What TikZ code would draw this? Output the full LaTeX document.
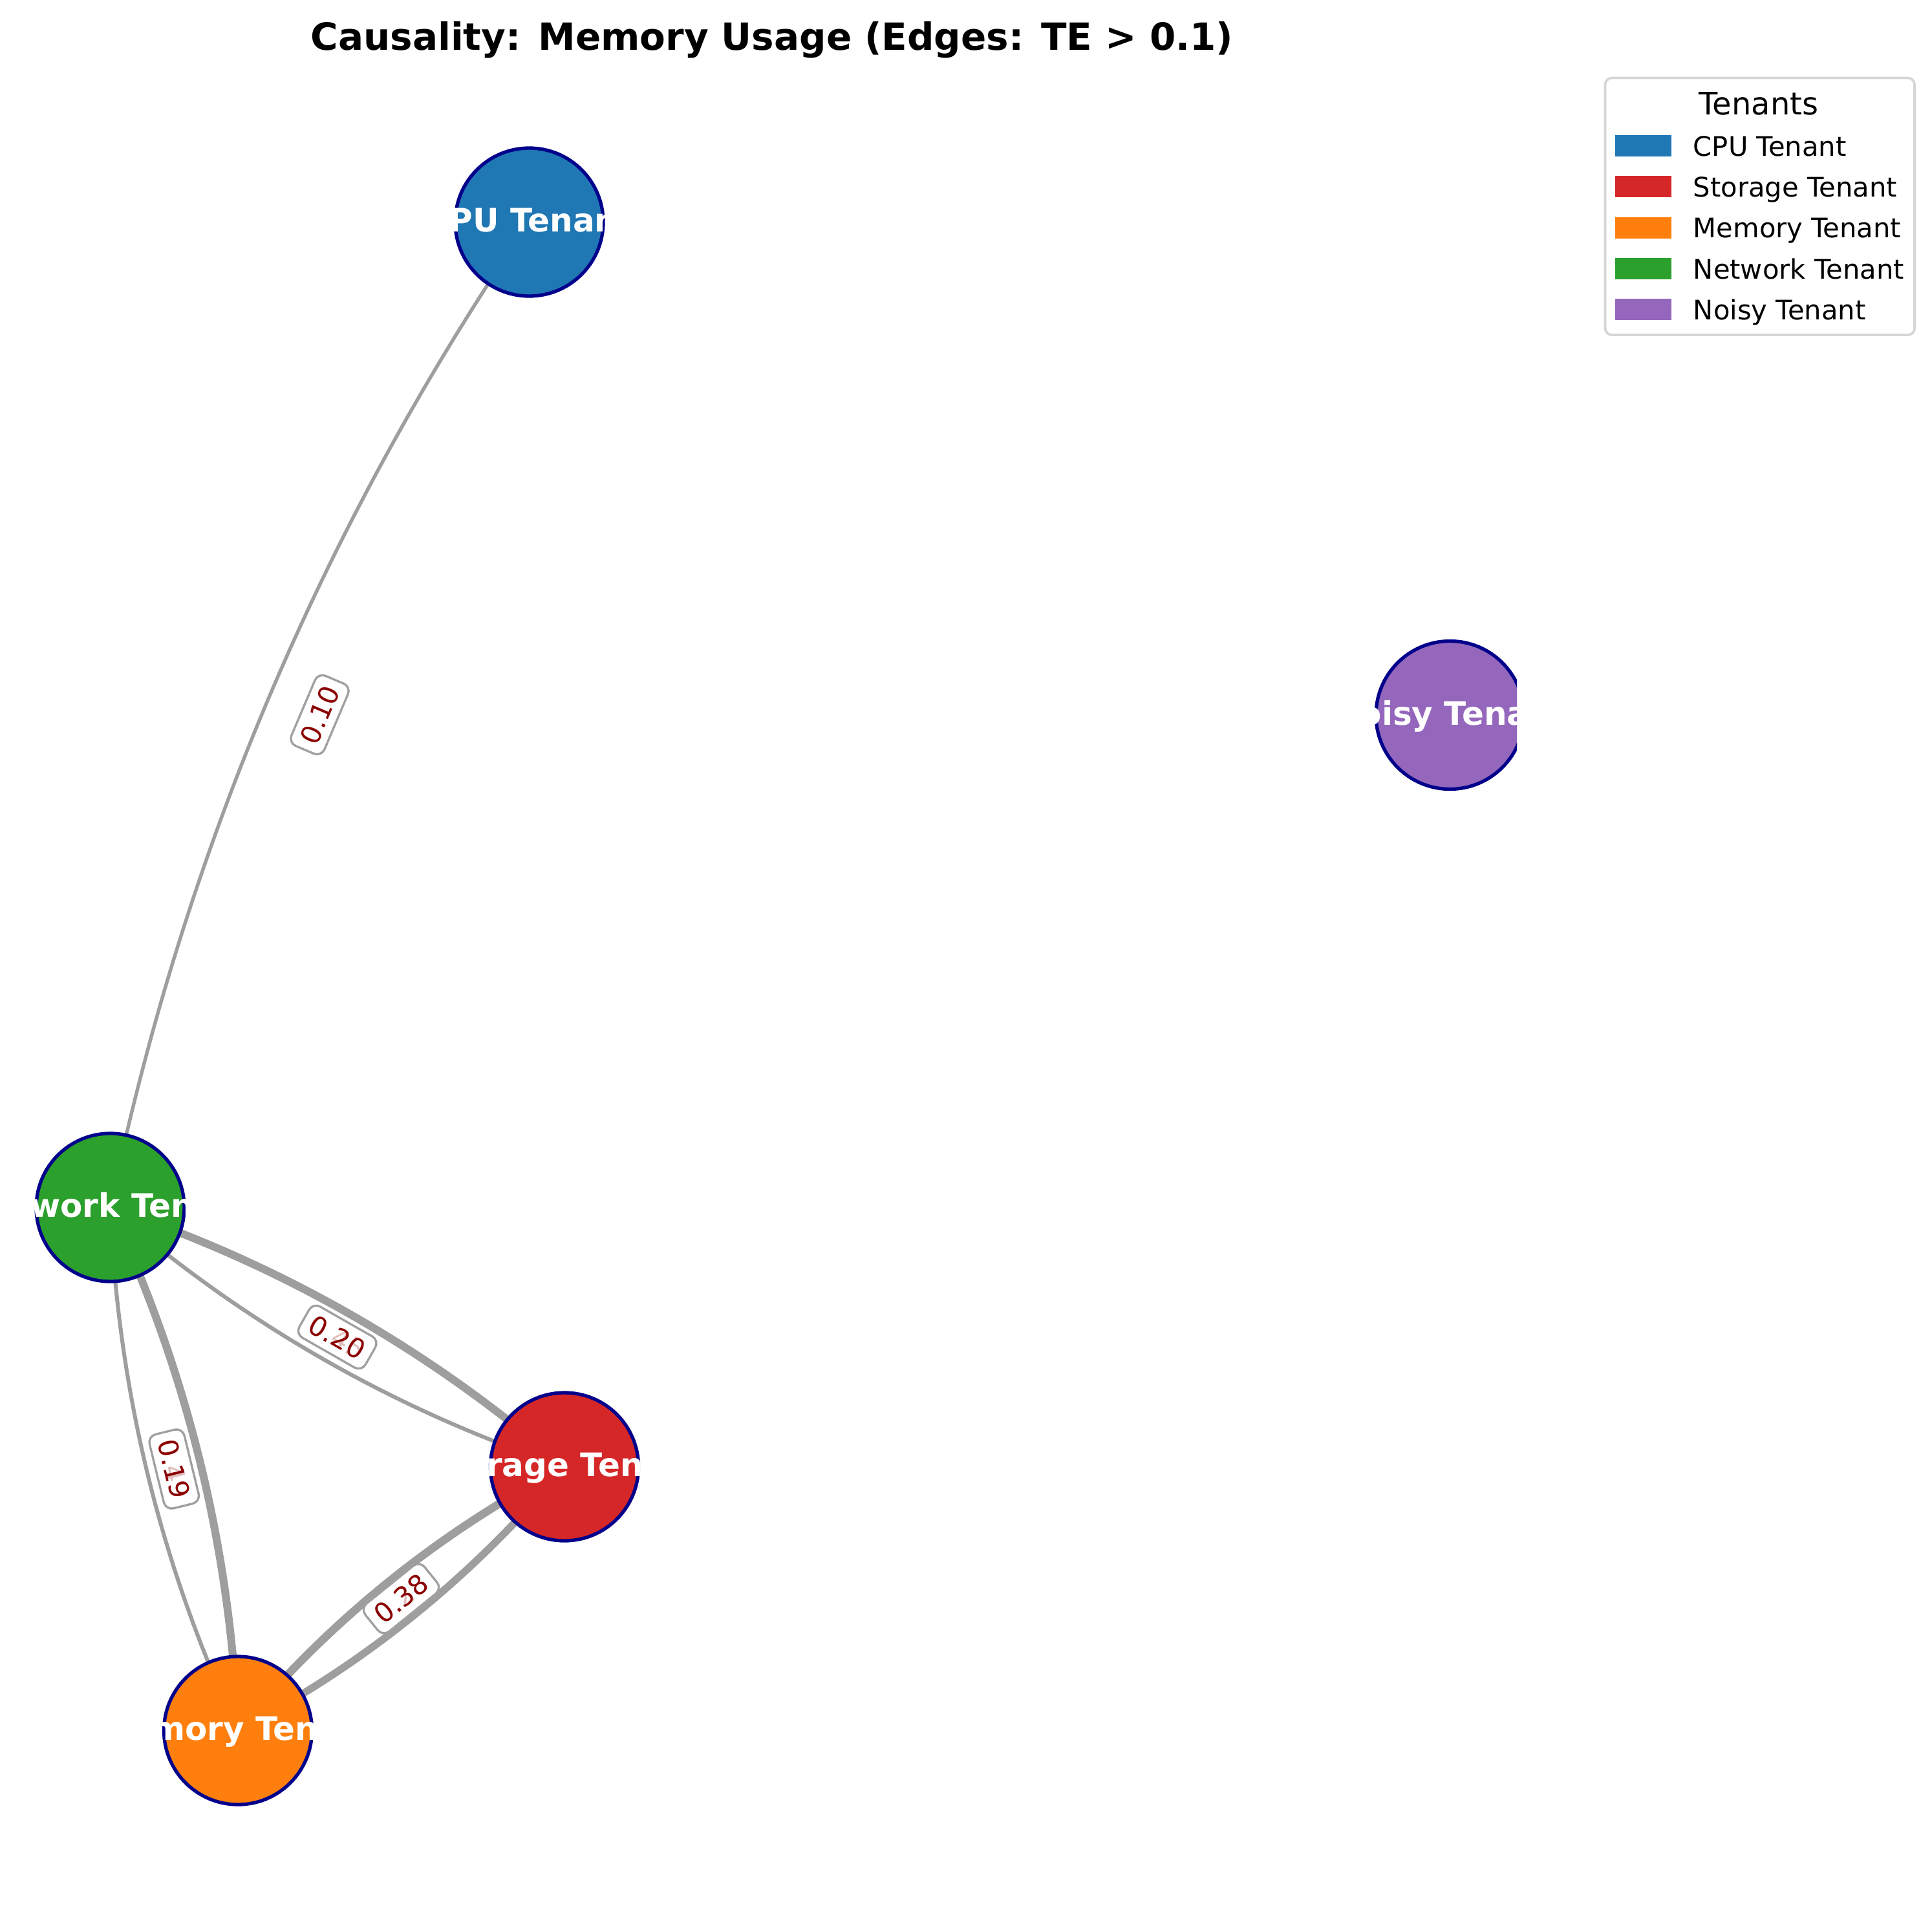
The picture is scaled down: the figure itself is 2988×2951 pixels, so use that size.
\documentclass[tikz,border=0pt]{standalone}
\usepackage{fontspec}
\setmainfont{DejaVu Sans}
\usetikzlibrary{calc}
\definecolor{tabblue}{HTML}{1F77B4}
\definecolor{tabred}{HTML}{D62728}
\definecolor{taborange}{HTML}{FF7F0E}
\definecolor{tabgreen}{HTML}{2CA02C}
\definecolor{tabpurple}{HTML}{9467BD}
\definecolor{nodeborder}{HTML}{00008B}
\definecolor{edgegray}{HTML}{9E9E9E}
\definecolor{labelred}{HTML}{8B0000}
\definecolor{boxgray}{HTML}{A0A0A0}
\definecolor{legendgray}{HTML}{D5D5D5}
\pgfdeclarelayer{edgelayer}
\pgfsetlayers{edgelayer,main}
\begin{document}
\begin{tikzpicture}[x=0.24pt,y=-0.24pt,
  tenant/.style={circle, draw=nodeborder, line width=1.27pt, minimum size=54.96pt, inner sep=0pt},
  tenantlabel/.style={text=white, font=\fontsize{12}{14}\selectfont\bfseries, anchor=base, inner sep=0pt},
  edgeline/.style={draw=edgegray},
  thinedge/.style={edgeline, line width=1.45pt},
  thickedge/.style={edgeline, line width=2.9pt},
  weightbox/.style={draw=boxgray, line width=0.8pt, fill=white, rounded corners=3pt,
    inner xsep=3pt, inner ysep=3pt, text height=7.3pt, text depth=0pt, text=labelred,
    font=\fontsize{10}{12}\selectfont},
  faintweight/.style={inner xsep=3pt, inner ysep=3pt, text height=7.3pt, text depth=0pt,
    text=labelred, text opacity=0.25, font=\fontsize{10}{12}\selectfont},
  legendtext/.style={anchor=base west, inner sep=0pt, font=\fontsize{10}{12}\selectfont},
  legendframe/.style={draw=legendgray, line width=0.9pt, fill=white, rounded corners=2.5pt}
]
\useasboundingbox (0,0) rectangle (2988,2951);

% title
\node[anchor=base, inner sep=0pt, font=\fontsize{13.9}{17}\selectfont\bfseries] (title)
  at (1194,77) {Causality: Memory Usage (Edges: TE > 0.1)};

% nodes (clipped to axes)
\begin{scope}
\clip (0,0) rectangle (2346,2951);
\node[tenant, fill=tabblue]   (cpu)   at (818.5,343.5) {};
\node[tenant, fill=tabpurple] (noisy) at (2242.5,1106) {};
\node[tenant, fill=tabred]    (sto)   at (873,2268.5) {};
\node[tenant, fill=taborange] (mem)   at (368,2676.5) {};
\node[tenant, fill=tabgreen]  (net)   at (170.5,1867.5) {};

\begin{scope}
\clip (cpu.west |- cpu.north) rectangle (cpu.east |- cpu.south);
\node[tenantlabel] (cpulabel) at ($(cpu.center)+(0,15)$) {CPU Tenant};
\end{scope}
\begin{scope}
\clip (noisy.west |- noisy.north) rectangle (noisy.east |- noisy.south);
\node[tenantlabel] (noisylabel) at ($(noisy.center)+(0,15)$) {Noisy Tenant};
\end{scope}
\begin{scope}
\clip (sto.west |- sto.north) rectangle (sto.east |- sto.south);
\node[tenantlabel] (stolabel) at ($(sto.center)+(0,15)$) {Storage Tenant};
\end{scope}
\begin{scope}
\clip (mem.west |- mem.north) rectangle (mem.east |- mem.south);
\node[tenantlabel] (memlabel) at ($(mem.center)+(0,15)$) {Memory Tenant};
\end{scope}
\begin{scope}
\clip (net.west |- net.north) rectangle (net.east |- net.south);
\node[tenantlabel] (netlabel) at ($(net.center)+(0,15)$) {Network Tenant};
\end{scope}
\end{scope}

% edges (arc3, rad = 0.1) behind the nodes
\begin{pgfonlayer}{edgelayer}
\coordinate (cCN) at (342.1,1040.7);
\coordinate (cNS) at (481.65,2138.25);
\coordinate (cSN) at (561.85,1997.75);
\coordinate (cNM) at (188.35,2291.75);
\coordinate (cMN) at (350.15,2252.25);
\coordinate (cMS) at (661.3,2523);
\coordinate (cSM) at (579.7,2422);
\draw[edgeline, line width=1.3pt] (cpu.center) .. controls ($(cpu.center)!2/3!(cCN)$) and ($(net.center)!2/3!(cCN)$) .. (net.center);
\draw[thinedge] (net.center) .. controls ($(net.center)!2/3!(cNS)$) and ($(sto.center)!2/3!(cNS)$) .. (sto.center);
\draw[thickedge] (sto.center) .. controls ($(sto.center)!2/3!(cSN)$) and ($(net.center)!2/3!(cSN)$) .. (net.center);
\draw[thinedge] (net.center) .. controls ($(net.center)!2/3!(cNM)$) and ($(mem.center)!2/3!(cNM)$) .. (mem.center);
\draw[thickedge] (mem.center) .. controls ($(mem.center)!2/3!(cMN)$) and ($(net.center)!2/3!(cMN)$) .. (net.center);
\draw[edgeline, line width=2.76pt] (mem.center) .. controls ($(mem.center)!2/3!(cMS)$) and ($(sto.center)!2/3!(cMS)$) .. (sto.center);
\draw[edgeline, line width=3.0pt] (sto.center) .. controls ($(sto.center)!2/3!(cSM)$) and ($(mem.center)!2/3!(cSM)$) .. (mem.center);
\end{pgfonlayer}

% edge weight labels
\node[weightbox, rotate=66.96] (wCN) at ($(cpu.center)!0.5!(net.center)$) {0.10};
\node[weightbox, rotate=-29.72] (wNS) at ($(net.center)!0.5!(sto.center)$) {0.20};
\node[faintweight, rotate=-29.72] (wSN) at (wNS.center) {0.45};
\node[weightbox, rotate=-76.28] (wNM) at ($(net.center)!0.5!(mem.center)$) {0.19};
\node[faintweight, rotate=-76.28] (wMN) at (wNM.center) {0.49};
\node[weightbox, rotate=38.94] (wMS) at ($(mem.center)!0.5!(sto.center)$) {0.38};
\node[faintweight, rotate=38.94] (wSM) at (wMS.center) {0.28};

% legend
\path[legendframe] (2482.6,120.5) rectangle (2961,518);
\node[anchor=base, inner sep=0pt, font=\fontsize{11.5}{13}\selectfont] (legtitle) at (2720,177.5) {Tenants};
\fill[tabblue]   (2498,209.0) rectangle (2585,242.0);
\fill[tabred]    (2498,272.3) rectangle (2585,305.3);
\fill[taborange] (2498,335.6) rectangle (2585,368.6);
\fill[tabgreen]  (2498,398.9) rectangle (2585,431.9);
\fill[tabpurple] (2498,462.2) rectangle (2585,495.2);
\node[legendtext] (leg1) at (2618,241.3) {CPU Tenant};
\node[legendtext] (leg2) at (2618,304.6) {Storage Tenant};
\node[legendtext] (leg3) at (2618,367.9) {Memory Tenant};
\node[legendtext] (leg4) at (2618,431.2) {Network Tenant};
\node[legendtext] (leg5) at (2618,494.5) {Noisy Tenant};
\end{tikzpicture}
\end{document}
